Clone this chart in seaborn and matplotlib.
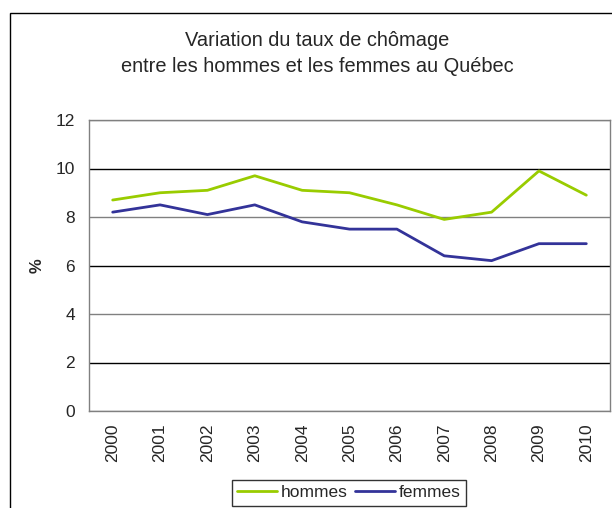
import matplotlib
matplotlib.use("Agg")
import matplotlib.pyplot as plt
import seaborn as sns
import pandas as pd
from matplotlib.patches import Rectangle
from matplotlib.lines import Line2D

years = ["2000", "2001", "2002", "2003", "2004", "2005", "2006", "2007", "2008", "2009", "2010"]
hommes = [8.7, 9.0, 9.1, 9.7, 9.1, 9.0, 8.5, 7.9, 8.2, 9.9, 8.9]
femmes = [8.2, 8.5, 8.1, 8.5, 7.8, 7.5, 7.5, 6.4, 6.2, 6.9, 6.9]
series_names = ["hommes", "femmes"]
colors = ["#99CC00", "#333399"]
yticks = [0, 2, 4, 6, 8, 10, 12]

df = pd.DataFrame({
    "year": years * 2,
    "value": hommes + femmes,
    "serie": [series_names[0]] * len(years) + [series_names[1]] * len(years),
})

sns.set_style("white")
plt.rcParams["font.family"] = ["Liberation Sans", "DejaVu Sans"]

fig = plt.figure(figsize=(6.12, 5.08), dpi=100)
W, H = 612, 508
ax = fig.add_axes([89 / W, 1 - 411 / H, (610 - 89) / W, (411 - 120) / H])

sns.lineplot(data=df, x="year", y="value", hue="serie", palette=colors,
             linewidth=2.0, ax=ax, legend=False, sort=False)

n = len(years)
ax.set_xlim(-0.5, n - 0.5)
ax.set_ylim(0, 12)
ax.set_yticks(yticks)
ax.set_xticks(range(n))
ax.set_xticklabels(years, rotation=90, fontsize=12.5)
ax.set_xticks([i - 0.5 for i in range(n + 1)], minor=True)
ax.tick_params(axis="x", which="major", length=0, pad=9)
ax.tick_params(axis="x", which="minor", length=5, width=1, color="#808080", direction="out")
ax.tick_params(axis="y", length=5, width=1, color="#808080", direction="out", labelsize=12.5, pad=5)
ax.set_xlabel("")
ax.set_ylabel("%", fontsize=12, labelpad=8, fontweight="bold")

ax.grid(axis="y", color="black", linewidth=1)
ax.set_axisbelow(True)
for i, gl in enumerate(ax.yaxis.get_gridlines()):
    gl.set_color("black" if yticks[i] in (2, 6, 10) else "#808080")
for sp in ax.spines.values():
    sp.set_color("#808080")
    sp.set_linewidth(1)
    sp.set_visible(True)

fig.text(317 / W, 1 - 40 / H, "Variation du taux de chômage", ha="center", va="center", fontsize=14.4)
fig.text(317 / W, 1 - 67 / H, "entre les hommes et les femmes au Québec", ha="center", va="center", fontsize=14.4)

# outer chart border (cut at right and bottom)
fig.patches.append(Rectangle((10 / W, -0.1), 1.2, 1 - 13 / H + 0.1, transform=fig.transFigure,
                             fill=False, edgecolor="black", linewidth=1))

handles = [Line2D([], [], color=c, linewidth=2.0) for c in colors]
leg = fig.legend(handles, series_names, loc="upper center", bbox_to_anchor=(349 / W, 1 - 480 / H),
                 ncol=2, frameon=True, fancybox=False, fontsize=12.5, handlelength=2.3,
                 handletextpad=0.2, columnspacing=0.45, borderpad=0.3, borderaxespad=0)
leg.get_frame().set_edgecolor("black")
leg.get_frame().set_linewidth(1)

fig.savefig("out.png", dpi=100)
